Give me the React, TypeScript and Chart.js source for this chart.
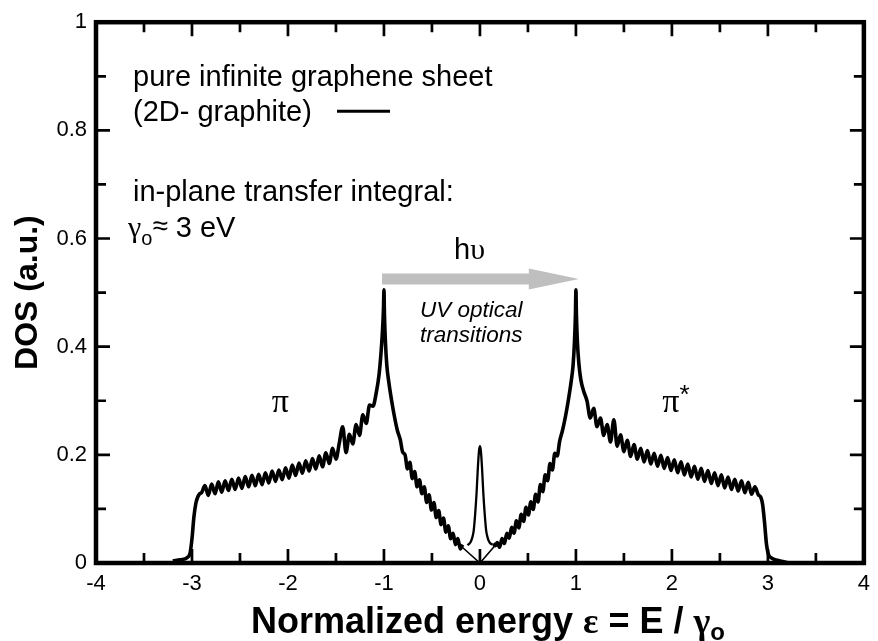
import React, { useEffect, useRef } from 'react';
import { Chart, registerables } from 'chart.js';

Chart.register(...registerables);

type Pt = [number, number];

const SANS = '"Liberation Sans", Arial, sans-serif';
const SERIF = '"Liberation Serif", "Times New Roman", serif';

// Axis ranges and tick positions (normalized energy, DOS)
const X_MAJOR = [-4, -3, -2, -1, 0, 1, 2, 3, 4];
const X_MINOR = [-3.5, -2.5, -1.5, -0.5, 0.5, 1.5, 2.5, 3.5];
const Y_MAJOR = [0, 0.2, 0.4, 0.6, 0.8, 1];
const Y_MINOR = [0.1, 0.3, 0.5, 0.7, 0.9];

// Valence (pi) band of the graphene sheet, with finite-size ripples
const piBand: Pt[] = [
  [-3.2, 0.004], [-3.12, 0.006], [-3.05, 0.01], [-3.02, 0.018], [-3.0, 0.045], [-2.98, 0.085],
  [-2.96, 0.11], [-2.94, 0.122], [-2.92, 0.128], [-2.9, 0.13],
  [-2.865, 0.143], [-2.83, 0.125], [-2.795, 0.146], [-2.76, 0.128], [-2.725, 0.15], [-2.69, 0.131],
  [-2.655, 0.152], [-2.62, 0.134], [-2.585, 0.155], [-2.55, 0.136], [-2.515, 0.157], [-2.48, 0.138],
  [-2.445, 0.16], [-2.41, 0.141], [-2.375, 0.162], [-2.34, 0.143], [-2.305, 0.164], [-2.27, 0.145],
  [-2.235, 0.167], [-2.2, 0.148], [-2.165, 0.17], [-2.13, 0.151], [-2.095, 0.172], [-2.06, 0.154],
  [-2.025, 0.176], [-1.99, 0.157], [-1.955, 0.181], [-1.92, 0.162], [-1.885, 0.185], [-1.85, 0.166],
  [-1.815, 0.189], [-1.78, 0.17], [-1.745, 0.193], [-1.71, 0.174], [-1.675, 0.198], [-1.64, 0.178],
  [-1.605, 0.204], [-1.57, 0.184], [-1.535, 0.212], [-1.5, 0.192], [-1.465, 0.222], [-1.43, 0.252],
  [-1.395, 0.204], [-1.36, 0.238], [-1.325, 0.22], [-1.29, 0.256], [-1.255, 0.236], [-1.22, 0.274],
  [-1.185, 0.258], [-1.15, 0.292], [-1.115, 0.29], [-1.08, 0.315], [-1.05, 0.35], [-1.03, 0.39],
  [-1.015, 0.43], [-1.005, 0.47], [-1.0, 0.505],
  [-0.995, 0.46], [-0.985, 0.41], [-0.97, 0.365], [-0.95, 0.335], [-0.92, 0.3], [-0.89, 0.27],
  [-0.86, 0.245], [-0.83, 0.228], [-0.805, 0.205], [-0.78, 0.2], [-0.755, 0.174], [-0.73, 0.186],
  [-0.705, 0.156], [-0.68, 0.169], [-0.655, 0.141], [-0.63, 0.154], [-0.605, 0.128], [-0.58, 0.141],
  [-0.555, 0.112], [-0.53, 0.126], [-0.505, 0.098], [-0.48, 0.112], [-0.455, 0.084], [-0.43, 0.097],
  [-0.405, 0.071], [-0.38, 0.083], [-0.355, 0.057], [-0.33, 0.069], [-0.305, 0.045], [-0.28, 0.055],
  [-0.255, 0.034], [-0.23, 0.045], [-0.205, 0.026], [-0.18, 0.034],
];

// Conduction (pi*) band
const piStarBand: Pt[] = [
  [0.14, 0.036], [0.16, 0.032], [0.18, 0.038], [0.205, 0.029], [0.23, 0.045], [0.255, 0.036],
  [0.28, 0.055], [0.305, 0.046], [0.33, 0.066], [0.355, 0.055], [0.38, 0.078], [0.405, 0.065],
  [0.43, 0.09], [0.455, 0.077], [0.48, 0.103], [0.505, 0.089], [0.53, 0.113], [0.555, 0.099],
  [0.58, 0.127], [0.605, 0.113], [0.63, 0.145], [0.655, 0.132], [0.68, 0.163], [0.705, 0.152],
  [0.73, 0.184], [0.755, 0.172], [0.78, 0.203], [0.805, 0.198], [0.83, 0.225], [0.86, 0.245],
  [0.89, 0.27], [0.92, 0.3], [0.95, 0.335], [0.97, 0.365], [0.985, 0.41], [0.995, 0.46], [1.0, 0.505],
  [1.005, 0.46], [1.015, 0.41], [1.03, 0.37], [1.05, 0.34], [1.08, 0.318], [1.115, 0.3],
  [1.15, 0.268], [1.185, 0.286], [1.22, 0.252], [1.255, 0.268], [1.29, 0.236], [1.325, 0.256],
  [1.36, 0.224], [1.395, 0.265], [1.43, 0.216], [1.465, 0.237], [1.5, 0.206], [1.535, 0.227],
  [1.57, 0.197], [1.605, 0.219], [1.64, 0.192], [1.675, 0.212], [1.71, 0.187], [1.745, 0.208],
  [1.78, 0.183], [1.815, 0.203], [1.85, 0.179], [1.885, 0.199], [1.92, 0.175], [1.955, 0.195],
  [1.99, 0.171], [2.025, 0.191], [2.06, 0.167], [2.095, 0.187], [2.13, 0.163], [2.165, 0.183],
  [2.2, 0.159], [2.235, 0.179], [2.27, 0.155], [2.305, 0.175], [2.34, 0.151], [2.375, 0.171],
  [2.41, 0.147], [2.445, 0.167], [2.48, 0.143], [2.515, 0.163], [2.55, 0.139], [2.585, 0.159],
  [2.62, 0.136], [2.655, 0.155], [2.69, 0.133], [2.725, 0.152], [2.76, 0.13], [2.795, 0.149],
  [2.83, 0.127], [2.865, 0.141], [2.9, 0.126], [2.925, 0.122], [2.945, 0.108], [2.965, 0.075],
  [2.985, 0.035], [3.005, 0.016], [3.04, 0.009], [3.1, 0.005], [3.2, 0.001],
];

// Ideal linear DOS close to the Dirac point
const linearDos: Pt[] = [[-0.19, 0.03], [0, 0], [0.16, 0.033]];

// Zero-energy state peak
const zeroModePeak: Pt[] = [
  [-0.13, 0.033], [-0.1, 0.038], [-0.08, 0.047], [-0.065, 0.06], [-0.05, 0.09], [-0.035, 0.13],
  [-0.022, 0.175], [-0.01, 0.207], [0, 0.216], [0.01, 0.207], [0.022, 0.175], [0.035, 0.13],
  [0.05, 0.09], [0.065, 0.06], [0.08, 0.047], [0.1, 0.038], [0.13, 0.034],
];

type Seg = { t: string; font: string; dy?: number };

function drawSegments(ctx: CanvasRenderingContext2D, segs: Seg[], x: number, y: number, align: 'left' | 'center') {
  ctx.textAlign = 'left';
  ctx.textBaseline = 'alphabetic';
  let total = 0;
  const widths = segs.map((s) => {
    ctx.font = s.font;
    const w = ctx.measureText(s.t).width;
    total += w;
    return w;
  });
  let cx = align === 'center' ? x - total / 2 : x;
  segs.forEach((s, i) => {
    ctx.font = s.font;
    ctx.fillText(s.t, cx, y + (s.dy || 0));
    cx += widths[i];
  });
}

const framePlugin = {
  id: 'frameAndNotes',
  afterDatasetsDraw(chart: any) {
    const { ctx, chartArea: a, scales } = chart;
    const xs = scales.x;
    const ys = scales.y;
    ctx.save();
    ctx.strokeStyle = '#000';
    ctx.lineCap = 'butt';

    // inward ticks on all four sides
    ctx.lineWidth = 2.7;
    const xTick = (v: number, len: number) => {
      const px = xs.getPixelForValue(v);
      ctx.beginPath();
      ctx.moveTo(px, a.bottom);
      ctx.lineTo(px, a.bottom - len);
      ctx.moveTo(px, a.top);
      ctx.lineTo(px, a.top + len);
      ctx.stroke();
    };
    const yTick = (v: number, len: number) => {
      const py = ys.getPixelForValue(v);
      ctx.beginPath();
      ctx.moveTo(a.left, py);
      ctx.lineTo(a.left + len, py);
      ctx.moveTo(a.right, py);
      ctx.lineTo(a.right - len, py);
      ctx.stroke();
    };
    X_MAJOR.forEach((v) => xTick(v, 14));
    X_MINOR.forEach((v) => xTick(v, 10));
    Y_MAJOR.forEach((v) => yTick(v, 14));
    Y_MINOR.forEach((v) => yTick(v, 10));

    // frame
    ctx.lineWidth = 4.5;
    ctx.strokeRect(a.left, a.top, a.right - a.left, a.bottom - a.top);

    ctx.fillStyle = '#000';
    const L = a.left;
    const T = a.top;

    // description text
    const f29 = `29px ${SANS}`;
    drawSegments(ctx, [{ t: 'pure infinite graphene sheet', font: f29 }], L + 37, T + 64, 'left');
    drawSegments(ctx, [{ t: '(2D- graphite)', font: f29 }], L + 37, T + 99, 'left');
    ctx.lineWidth = 3;
    ctx.beginPath();
    ctx.moveTo(L + 241, T + 89);
    ctx.lineTo(L + 294, T + 89);
    ctx.stroke();
    drawSegments(ctx, [{ t: 'in-plane transfer integral:', font: f29 }], L + 37, T + 179, 'left');
    drawSegments(
      ctx,
      [
        { t: 'γ', font: `30px ${SERIF}` },
        { t: 'o', font: `20px ${SANS}`, dy: 8 },
        { t: '≈', font: `28px ${SANS}`, dy: -2 },
        { t: ' 3 eV', font: f29 },
      ],
      L + 32,
      T + 215,
      'left'
    );

    // optical transition arrow
    const ax0 = xs.getPixelForValue(-1.02);
    const ax1 = xs.getPixelForValue(1.03);
    const ay = ys.getPixelForValue(0.525);
    ctx.fillStyle = '#bfbfbf';
    ctx.beginPath();
    ctx.moveTo(ax0, ay - 5.5);
    ctx.lineTo(ax1 - 50, ay - 5.5);
    ctx.lineTo(ax1 - 50, ay - 10.5);
    ctx.lineTo(ax1, ay);
    ctx.lineTo(ax1 - 50, ay + 10.5);
    ctx.lineTo(ax1 - 50, ay + 5.5);
    ctx.lineTo(ax0, ay + 5.5);
    ctx.closePath();
    ctx.fill();

    ctx.fillStyle = '#000';
    drawSegments(
      ctx,
      [
        { t: 'h', font: `29px ${SANS}` },
        { t: 'υ', font: `30px ${SERIF}` },
      ],
      xs.getPixelForValue(-0.27),
      ay - 20,
      'left'
    );
    const fi = `italic 22.5px ${SANS}`;
    drawSegments(ctx, [{ t: 'UV optical', font: fi }], xs.getPixelForValue(-0.09), ay + 38, 'center');
    drawSegments(ctx, [{ t: 'transitions', font: fi }], xs.getPixelForValue(-0.09), ay + 63, 'center');

    // band labels
    drawSegments(ctx, [{ t: 'π', font: `34px ${SERIF}` }], xs.getPixelForValue(-2.17), ys.getPixelForValue(0.28), 'left');
    drawSegments(
      ctx,
      [
        { t: 'π', font: `34px ${SERIF}` },
        { t: '*', font: `26px ${SANS}`, dy: -9 },
      ],
      xs.getPixelForValue(1.9),
      ys.getPixelForValue(0.28),
      'left'
    );

    // axis titles
    const fb = `bold 36px ${SANS}`;
    drawSegments(
      ctx,
      [
        { t: 'Normalized energy ', font: fb },
        { t: 'ε', font: `bold 36px ${SERIF}` },
        { t: ' = E / ', font: fb },
        { t: 'γ', font: `bold 36px ${SERIF}` },
        { t: 'o', font: `bold 24px ${SANS}`, dy: 7 },
      ],
      (a.left + a.right) / 2 + 8,
      a.bottom + 70,
      'center'
    );

    ctx.save();
    ctx.translate(36.5, (a.top + a.bottom) / 2);
    ctx.rotate(-Math.PI / 2);
    drawSegments(ctx, [{ t: 'DOS (a.u.)', font: `bold 32px ${SANS}` }], 0, 0, 'center');
    ctx.restore();

    ctx.restore();
  },
};

function line(points: Pt[], width: number, smooth: boolean) {
  return {
    data: points.map(([x, y]) => ({ x, y })),
    showLine: true,
    pointRadius: 0,
    borderColor: '#000',
    backgroundColor: '#000',
    borderWidth: width,
    borderJoinStyle: 'round' as const,
    fill: false,
    cubicInterpolationMode: smooth ? ('monotone' as const) : ('default' as const),
    tension: 0,
  };
}

export default function App() {
  const ref = useRef<HTMLCanvasElement>(null);

  useEffect(() => {
    if (!ref.current) return;
    const chart = new Chart(ref.current, {
      type: 'scatter',
      data: {
        datasets: [
          line(linearDos, 1.6, false),
          line(zeroModePeak, 2.3, true),
          line(piBand, 3.6, true),
          line(piStarBand, 3.6, true),
        ],
      },
      options: {
        responsive: false,
        animation: false,
        events: [],
        layout: { padding: { top: 18, right: 8, left: 0, bottom: 0 } },
        plugins: { legend: { display: false }, tooltip: { enabled: false } },
        scales: {
          x: {
            type: 'linear',
            min: -4,
            max: 4,
            grid: { display: false, drawTicks: false },
            border: { display: false },
            ticks: {
              stepSize: 1,
              padding: 8,
              color: '#000',
              autoSkip: false,
              maxRotation: 0,
              font: { family: SANS, size: 22 },
              callback: (v: any) => String(v),
            },
            afterFit: (s: any) => {
              s.height = 78;
            },
          },
          y: {
            type: 'linear',
            min: 0,
            max: 1,
            grid: { display: false, drawTicks: false },
            border: { display: false },
            ticks: {
              stepSize: 0.2,
              padding: 9,
              color: '#000',
              font: { family: SANS, size: 22 },
              callback: (v: any) => String(Math.round(Number(v) * 10) / 10),
            },
            afterFit: (s: any) => {
              s.width = 96;
            },
          },
        },
      },
      plugins: [framePlugin],
    });
    return () => chart.destroy();
  }, []);

  return (
    <div style={{ position: 'fixed', left: 0, top: 0, width: 878, height: 641, background: '#fff' }}>
      <canvas ref={ref} width={878} height={641} style={{ display: 'block' }} />
    </div>
  );
}
